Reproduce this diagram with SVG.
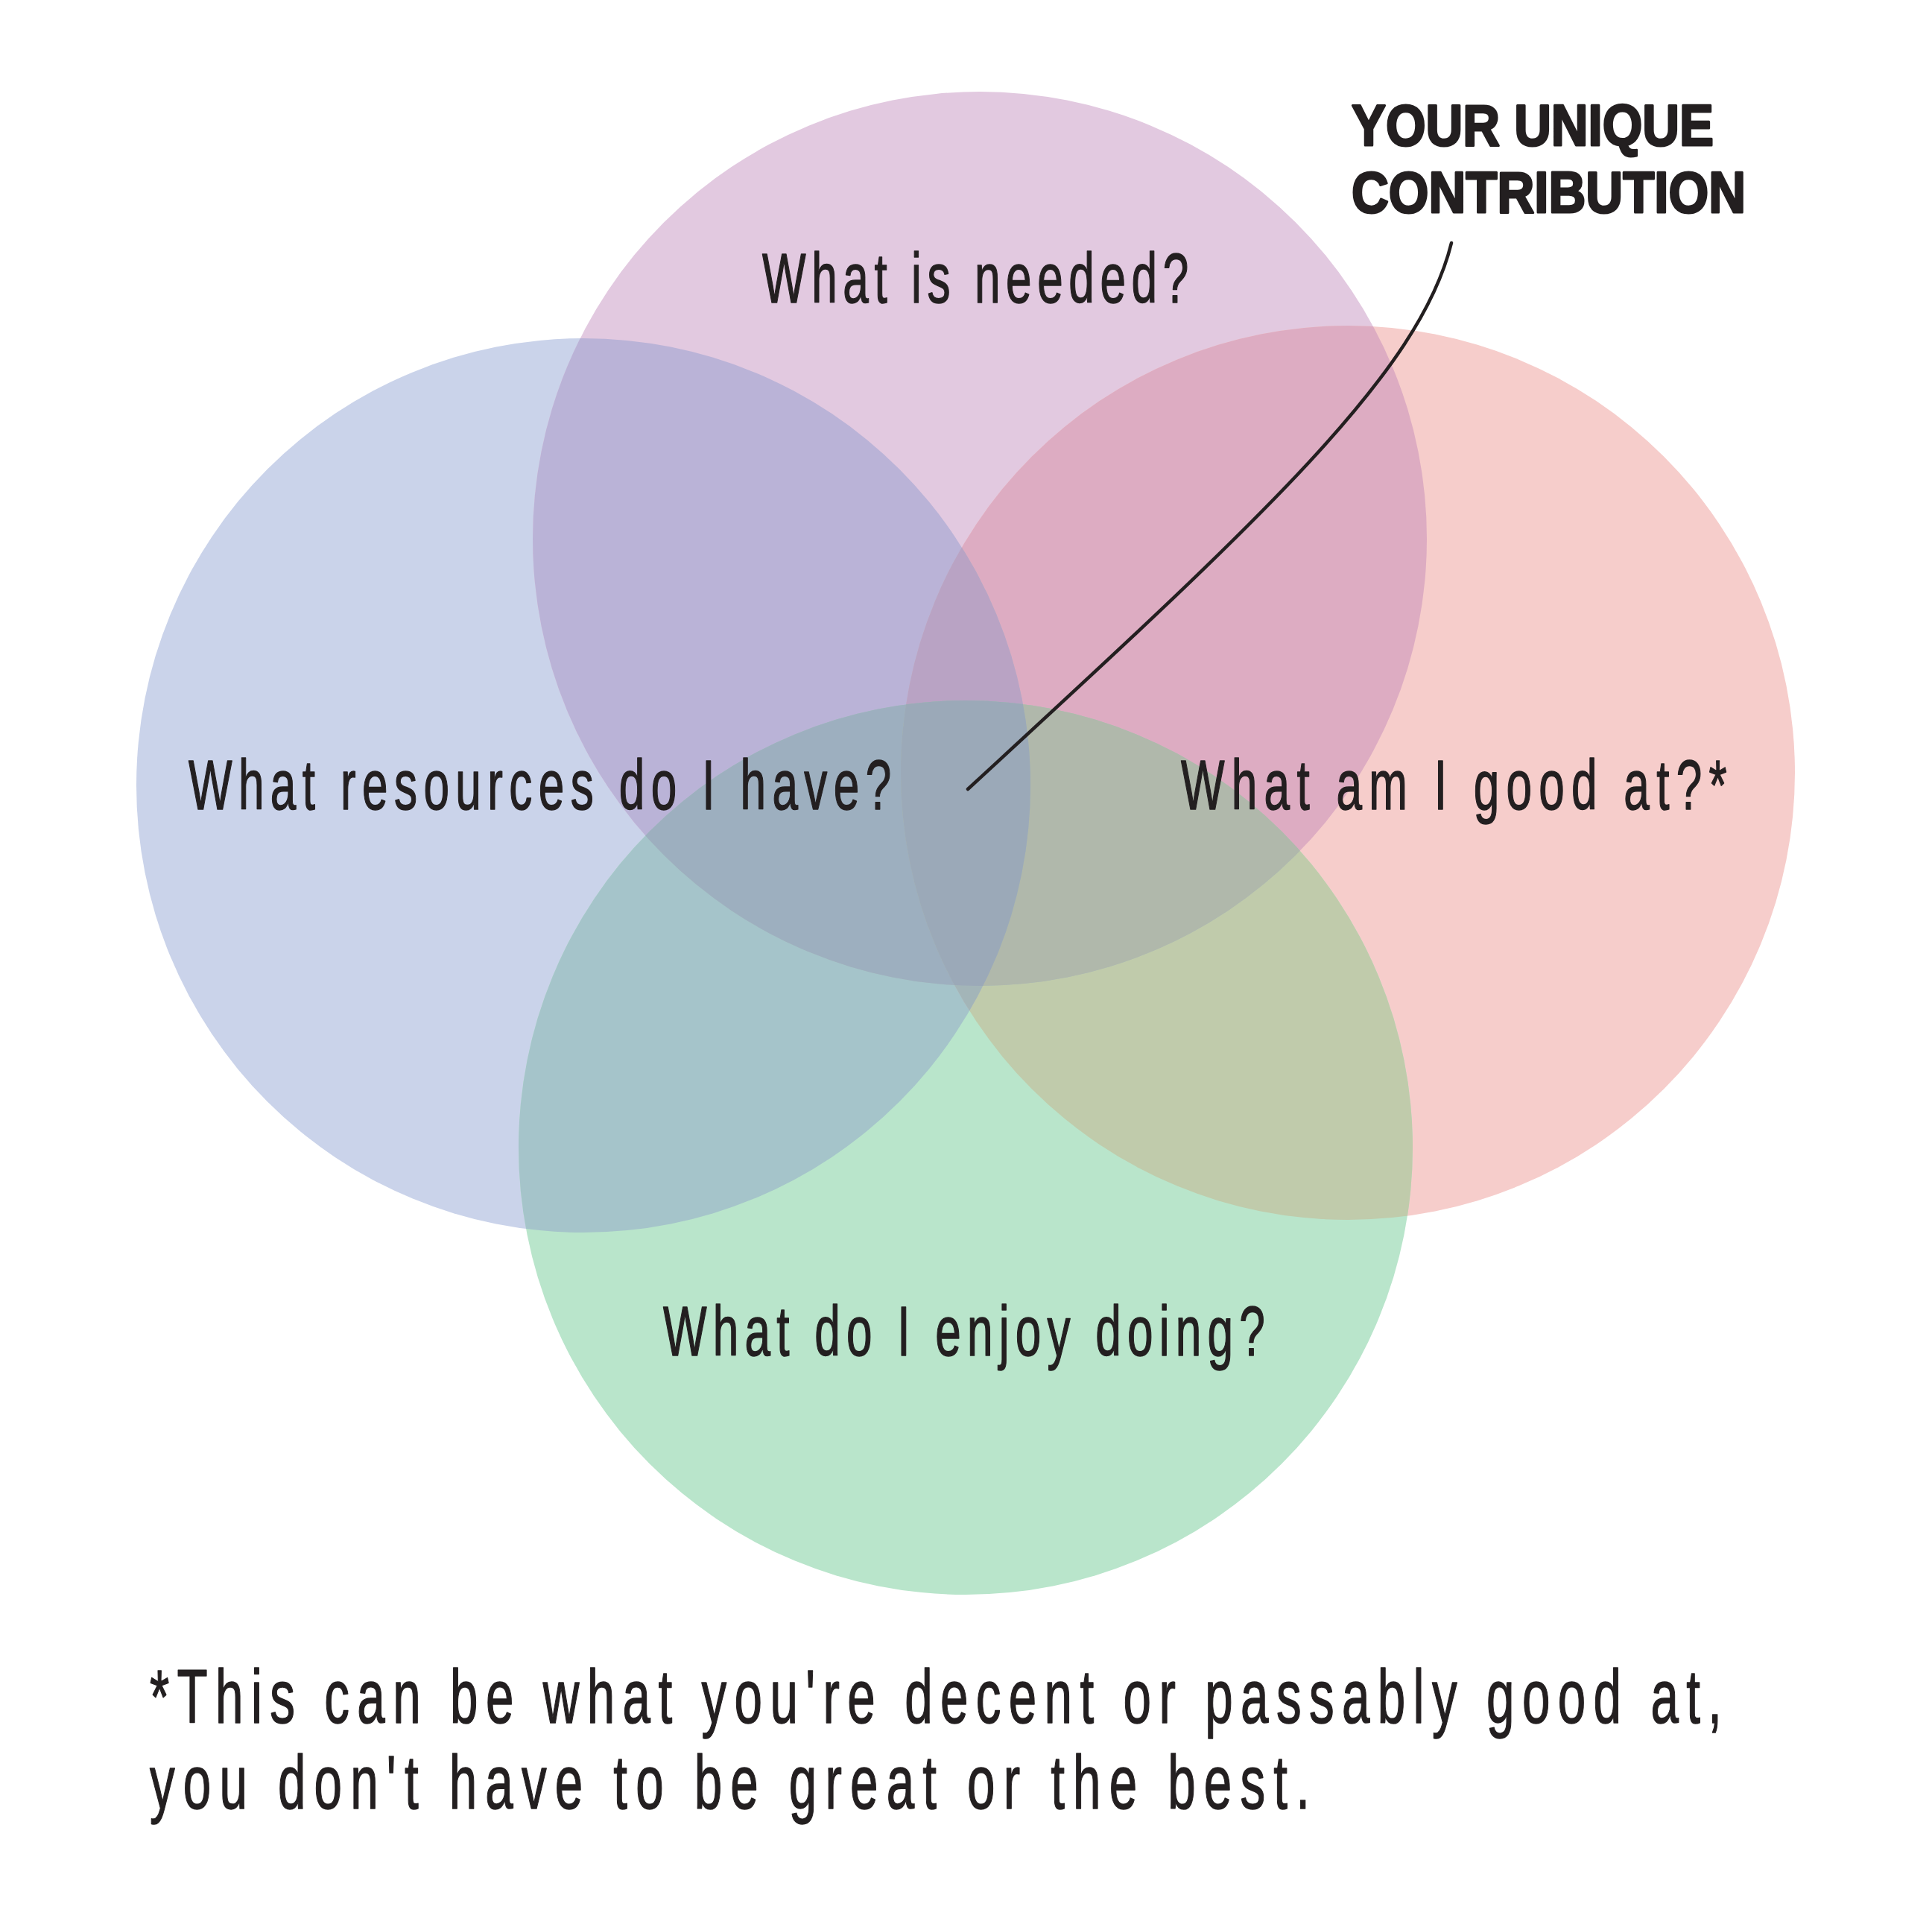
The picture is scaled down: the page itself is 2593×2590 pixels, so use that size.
<svg xmlns="http://www.w3.org/2000/svg" width="2593" height="2590" viewBox="0 0 2593 2590">
<style>
.lbl{font-family:"Liberation Sans","DejaVu Sans",sans-serif;font-size:94px;fill:#231F20;stroke:#231F20;stroke-width:1.5;stroke-linejoin:round}
.foot{font-family:"Liberation Sans","DejaVu Sans",sans-serif;font-size:102px;fill:#231F20;stroke:#231F20;stroke-width:1.5;stroke-linejoin:round}
.ttl{font-family:"Liberation Sans","DejaVu Sans",sans-serif;font-size:78px;font-weight:bold;fill:#231F20;stroke:#231F20;stroke-width:3;stroke-linejoin:round}
.lead{fill:none;stroke:#231F20;stroke-width:4.5;stroke-linecap:round}
</style>
<defs>
<clipPath id="cB"><circle cx="783" cy="1054" r="600"/></clipPath>
<clipPath id="cPu"><circle cx="1315" cy="723" r="600"/></clipPath>
<clipPath id="cPk"><circle cx="1809" cy="1037" r="600"/></clipPath>
<clipPath id="cG"><circle cx="1296" cy="1540" r="600"/></clipPath>
<circle id="B" cx="783" cy="1054" r="600"/>
<circle id="Pu" cx="1315" cy="723" r="600"/>
<circle id="Pk" cx="1809" cy="1037" r="600"/>
<circle id="G" cx="1296" cy="1540" r="600"/>
</defs>
<rect width="2593" height="2590" fill="#FFFFFF"/>
<g id="node-resources"><use href="#B" fill="#CAD3EA"/></g>
<g id="node-needed"><use href="#Pu" fill="#E2C9E0"/></g>
<g id="node-good-at"><use href="#Pk" fill="#F6CDCB"/></g>
<g id="node-enjoy"><use href="#G" fill="#B9E5CB"/></g>
<g id="overlaps">
<g clip-path="url(#cB)"><use href="#Pu" fill="#BAB3D7"/></g>
<g clip-path="url(#cPu)"><use href="#Pk" fill="#DDACC2"/></g>
<g clip-path="url(#cB)"><use href="#G" fill="#A5C4CA"/></g>
<g clip-path="url(#cPk)"><use href="#G" fill="#C0CBAB"/></g>
<g clip-path="url(#cB)"><use href="#Pk" fill="#B5B8C8"/></g>
<g clip-path="url(#cPu)"><use href="#G" fill="#A9BDBC"/></g>
<g clip-path="url(#cB)"><g clip-path="url(#cPu)"><use href="#Pk" fill="#B9A3C4"/></g></g>
<g clip-path="url(#cB)"><g clip-path="url(#cPu)"><use href="#G" fill="#9DAFBF"/></g></g>
<g clip-path="url(#cPu)"><g clip-path="url(#cPk)"><use href="#G" fill="#B0B8AB"/></g></g>
<g clip-path="url(#cB)"><g clip-path="url(#cPk)"><use href="#G" fill="#A3B5B8"/></g></g>
<g clip-path="url(#cB)"><g clip-path="url(#cPu)"><g clip-path="url(#cPk)"><use href="#G" fill="#9BA9B8"/></g></g></g>
</g>
<g id="labels">
<text id="label-needed" class="lbl" transform="translate(1023,406) scale(0.66,1)" textLength="867" lengthAdjust="spacing">What is needed?</text>
<text id="label-resources" class="lbl" transform="translate(253,1086) scale(0.66,1)" textLength="1429" lengthAdjust="spacing">What resources do I have?</text>
<text id="label-good-at" class="lbl" transform="translate(1585,1086) scale(0.66,1)" textLength="1110" lengthAdjust="spacing">What am I good at?*</text>
<text id="label-enjoy" class="lbl" transform="translate(890,1819) scale(0.66,1)" textLength="1224" lengthAdjust="spacing">What do I enjoy doing?</text>
</g>
<g id="node-contribution">
<text class="ttl" x="1814" y="195" textLength="486" lengthAdjust="spacingAndGlyphs">YOUR UNIQUE</text>
<text class="ttl" x="1814" y="285" textLength="529" lengthAdjust="spacingAndGlyphs">CONTRIBUTION</text>
</g>
<g id="connectors">
<path class="lead" d="M1948,326 C1905,500 1699,691 1299,1059"/>
</g>
<g id="footnote">
<text class="foot" transform="translate(201,2312) scale(0.66,1)" textLength="3197" lengthAdjust="spacing">*This can be what you're decent or passably good at,</text>
<text class="foot" transform="translate(201,2427) scale(0.66,1)" textLength="2359" lengthAdjust="spacing">you don't have to be great or the best.</text>
</g>
</svg>
